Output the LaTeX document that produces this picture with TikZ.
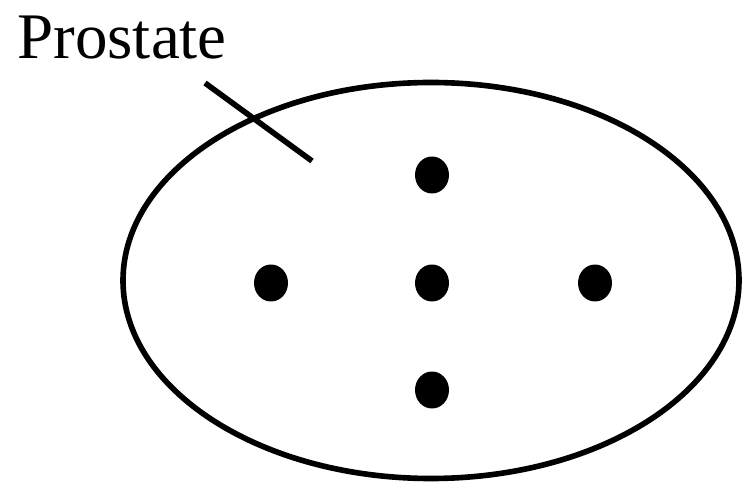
\documentclass[tikz,border=0pt]{standalone}
\usepackage{fontspec}
\setmainfont{Liberation Serif}
\usetikzlibrary{positioning, calc, shapes.geometric}
\tikzset{
  gland/.style={line width=3.2pt, draw=black},
  seed/.style={ellipse, fill=black, inner sep=0pt, minimum width=0.68cm, minimum height=0.74cm},
  leader/.style={line width=3.2pt, draw=black}
}
\begin{document}
\begin{tikzpicture}[x=0.02cm, y=-0.02cm]
  \useasboundingbox (0,0) rectangle (744,489);

  % gland outline
  \draw[gland] (431,280.5) ellipse [x radius=308, y radius=198];

  % seeds
  \node[seed] (mid) at (432,283) {};
  \node[seed] (top) at (432,175) {};
  \node[seed] (bot) at (432,390) {};
  \node[seed] (lft) at (271,283) {};
  \node[seed] (rgt) at (595,283) {};

  % label
  \node[anchor=base west, inner sep=0pt, font=\fontsize{37}{40}\selectfont] (lbl) at (17,59) {Prostate};
  \coordinate (p1) at (205,83);
  \coordinate (p2) at (312,161);
  \draw[leader] (p1) -- (p2);
\end{tikzpicture}
\end{document}
